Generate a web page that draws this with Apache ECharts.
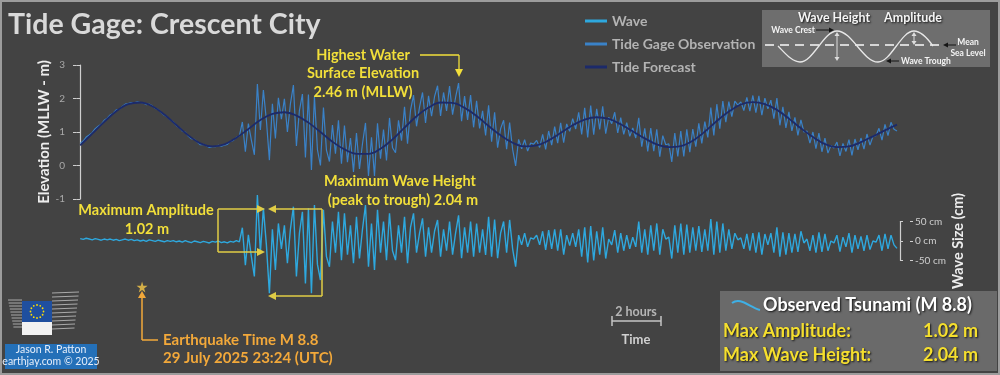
<!DOCTYPE html>
<html>
<head>
<meta charset="utf-8">
<title>Tide Gage: Crescent City</title>
<script src="https://cdn.jsdelivr.net/npm/echarts@6/dist/echarts.min.js"></script>
<style>
  html, body { margin: 0; padding: 0; background: #434343; }
  #main { width: 1000px; height: 375px; }
</style>
</head>
<body>
<div id="main"></div>
<script>
// 15 minute samples, hours from the left edge of the plot
var sampleStep = 0.25;
var quakeHour = 5.15;

// tick labels
var elevTicks = [-1, 0, 1, 2, 3];
var waveTicks = [-50, 0, 50];

// tide forecast, one value per hour (m, MLLW)
var tideForecast = [
  0.60, 0.95, 1.30, 1.62, 1.83, 1.88, 1.77, 1.52, 1.21, 0.90,
  0.66, 0.57, 0.63, 0.83, 1.09, 1.36, 1.54, 1.59, 1.49, 1.28,
  1.00, 0.71, 0.48, 0.35, 0.35, 0.50, 0.78, 1.13, 1.47, 1.73,
  1.88, 1.87, 1.72, 1.48, 1.18, 0.90, 0.68, 0.57, 0.60, 0.75,
  0.97, 1.20, 1.37, 1.44, 1.39, 1.23, 1.02, 0.81, 0.63, 0.55,
  0.58, 0.74, 1.01, 1.33, 1.61, 1.82, 1.89, 1.83, 1.66, 1.40,
  1.11, 0.85, 0.64, 0.55, 0.57, 0.70, 0.87, 1.05, 1.22
];

// tide gage observation (m, MLLW)
var obsLevel = [
  0.66, 0.73, 0.85, 0.91, 0.98, 1.10, 1.17, 1.23, 1.35, 1.41,
  1.51, 1.56, 1.66, 1.68, 1.76, 1.83, 1.85, 1.88, 1.87, 1.90,
  1.88, 1.87, 1.82, 1.83, 1.78, 1.70, 1.67, 1.58, 1.50, 1.45,
  1.36, 1.30, 1.19, 1.13, 1.03, 0.99, 0.88, 0.80, 0.78, 0.70,
  0.62, 0.63, 0.59, 0.54, 0.56, 0.56, 0.60, 0.58, 0.61, 0.63,
  0.72, 0.75, 0.84, 0.88,
  1.30, 0.41, 1.25, 0.76, 0.32, 2.43, 1.06, 2.25, 1.35, 0.16,
  1.84, 0.81, 2.02, 1.38, 1.99, 1.00, 1.84, 2.40, 0.58, 1.64,
  2.13, 0.24, 2.12, -0.13, 2.06, 0.47, 0.00, 1.73, 0.46, 0.12,
  1.21, 0.35, 1.35, 0.05, 1.19, 0.10, 0.82, -0.19, 0.97, -0.10,
  0.65, 1.27, -0.31, 0.84, -0.31, 1.26, 0.20, 1.07, 0.15, 1.42,
  0.53, 0.38, 1.35, 0.74, 1.75, 0.65, 1.65, 2.10, 1.17, 1.74,
  2.18, 1.27, 2.08, 1.47, 2.06, 2.38, 1.48, 2.18, 1.63, 2.37,
  1.52, 2.03, 2.46, 1.32, 2.07, 1.36, 2.10, 1.14, 1.93, 1.11,
  1.63, 0.90, 1.80, 0.71, 1.59, 0.53, 1.10, 1.35, 0.49, 1.28,
  0.48, -0.01, 0.78, 0.50, 0.77, 0.43, 0.67, 0.64, 0.75, 0.54,
  0.93, 0.48, 1.03, 0.61, 1.16, 0.67, 1.27, 0.68, 1.24, 1.02,
  1.40, 1.09, 1.59, 0.93, 1.72, 0.84, 1.79, 0.92, 1.69, 1.08,
  1.77, 0.95, 1.44, 1.25, 1.59, 0.97, 1.43, 0.93, 1.28, 0.87,
  1.12, 0.82, 1.42, 0.56, 1.11, 0.42, 1.12, 0.43, 1.08, 0.26,
  0.89, 0.62, 0.65, 0.11, 0.97, 0.27, 1.03, 0.27, 1.08, 0.40,
  1.09, 0.56, 1.26, 0.66, 1.31, 0.84, 1.73, 0.90, 1.83, 1.10,
  1.92, 1.29, 1.91, 1.46, 1.92, 1.80, 1.90, 1.64, 2.03, 1.62,
  2.09, 1.58, 2.08, 1.50, 2.01, 1.69, 1.95, 1.40, 2.01, 1.20,
  1.75, 1.12, 1.60, 1.03, 1.44, 0.90, 1.36, 1.00, 1.03, 0.67,
  1.00, 0.50, 0.97, 0.41, 0.82, 0.37, 0.60, 0.52, 0.70, 0.29,
  0.66, 0.42, 0.77, 0.30, 0.79, 0.47, 0.82, 0.49, 0.94, 0.61,
  0.87, 0.89, 1.11, 0.76, 1.23, 0.89, 1.29, 1.08, 1.03
];

// wave (observation minus forecast), cm
var waveSize = [
  6, 4, 7, 5, 3, 6, 4, 2, 5, 3,
  5, 2, 4, 1, 3, 5, 2, 4, 1, 3,
  0, 2, -1, 3, 1, -1, 2, 0, -2, 1,
  -1, 1, -2, 0, -3, 1, -2, -4, 0, -2,
  -4, -1, -3, -5, -1, -3, 0, -4, -2, -5,
  -1, -3, 1, -2,
  34, -62, 16, -40, -91, 118, -30, 84, -10, -134,
  30, -74, 45, -20, 40, -57, 30, 88, -91, 20,
  75, -109, 84, -134, 92, -60, -100, 80, -40, -66,
  50, -30, 75, -49, 71, -35, 40, -57, 62, -45,
  30, 92, -66, 45, -74, 80, -30, 50, -49, 71,
  -25, -49, 40, -30, 62, -57, 35, 71, -30, 20,
  58, -40, 35, -30, 25, 54, -40, 30, -25, 50,
  -35, 20, 66, -44, 35, -30, 50, -40, 45, -30,
  30, -36, 62, -40, 55, -44, 20, 50, -30, 54,
  -20, -66, 15, -10, 20, -15, 8, 5, 15, -10,
  25, -23, 28, -20, 30, -25, 30, -35, 15, -12,
  20, -15, 30, -40, 35, -55, 38, -50, 25, -35,
  35, -45, 5, -10, 28, -30, 20, -25, 15, -20,
  10, -15, 50, -30, 30, -35, 40, -25, 45, -35,
  30, 5, 10, -45, 40, -30, 45, -35, 42, -30,
  35, -25, 38, -28, 30, -25, 56, -35, 50, -30,
  45, -25, 30, -20, 20, 3, 8, -20, 18, -25,
  20, -30, 22, -35, 18, -10, 20, -30, 35, -40,
  22, -35, 20, -30, 18, -28, 25, -5, 5, -25,
  15, -30, 22, -28, 18, -25, 0, -5, 15, -27,
  10, -15, 20, -30, 15, -20, 12, -25, 15, -22,
  0, -3, 15, -25, 18, -20, 15, -10, -19
];

var YELLOW = '#f2df3a';
var BOXLINE = '#e0cc45';
var ORANGE = '#f2a83a';
var FONT = 'Lato';

function txt(x, y, s, font, fill, align, extra) {
  var st = {
    text: s, font: font, fill: fill,
    align: align || 'left', textAlign: align || 'left',
    verticalAlign: 'middle', textVerticalAlign: 'middle'
  };
  if (extra) for (var k in extra) st[k] = extra[k];
  return { type: 'text', x: x, y: y, silent: true, z: 50, style: st };
}
function ln(x1, y1, x2, y2, color, w, dash) {
  return { type: 'line', silent: true, z: 50,
    shape: { x1: x1, y1: y1, x2: x2, y2: y2 },
    style: { stroke: color, lineWidth: w || 1.5, lineDash: dash || null } };
}
function tri(pts, color) {
  return { type: 'polygon', silent: true, z: 50, shape: { points: pts }, style: { fill: color } };
}
function bez(a, c1, c2, b, color, w) {
  return { type: 'bezierCurve', silent: true, z: 50,
    shape: { x1: a[0], y1: a[1], cpx1: c1[0], cpy1: c1[1], cpx2: c2[0], cpy2: c2[1], x2: b[0], y2: b[1] },
    style: { stroke: color, lineWidth: w || 1.5, fill: 'none' } };
}

var shadow = { textShadowColor: 'rgba(0,0,0,0.8)', textShadowBlur: 2, textShadowOffsetX: 1, textShadowOffsetY: 1 };

var graphics = [];
// title
graphics.push(txt(8, 25, 'Tide Gage: Crescent City', 'bold 28.5px ' + FONT, '#d9d9d9'));

// highest water note
graphics.push(txt(363, 55, 'Highest Water', 'bold 14.5px ' + FONT, YELLOW, 'center'));
graphics.push(txt(363, 73, 'Surface Elevation', 'bold 14.5px ' + FONT, YELLOW, 'center'));
graphics.push(txt(363, 92, '2.46 m (MLLW)', 'bold 14.5px ' + FONT, YELLOW, 'center'));
graphics.push(ln(420, 55, 459, 55, YELLOW, 1.3));
graphics.push(ln(459, 55, 459, 71, YELLOW, 1.3));
graphics.push(tri([[455, 69], [463, 69], [459, 77]], YELLOW));

// maximum wave height note
graphics.push(txt(400, 181, 'Maximum Wave Height', 'bold 14.5px ' + FONT, YELLOW, 'center'));
graphics.push(txt(403, 200, '(peak to trough) 2.04 m', 'bold 14.5px ' + FONT, YELLOW, 'center'));
graphics.push(ln(322, 209, 275, 209, BOXLINE));
graphics.push(ln(322, 209, 322, 296, BOXLINE));
graphics.push(ln(322, 296, 275, 296, BOXLINE));
graphics.push(tri([[276, 205], [276, 213], [268, 209]], BOXLINE));
graphics.push(tri([[276, 292], [276, 300], [268, 296]], BOXLINE));

// maximum amplitude note
graphics.push(txt(146, 210, 'Maximum Amplitude', 'bold 14.5px ' + FONT, YELLOW, 'center'));
graphics.push(txt(147, 229, '1.02 m', 'bold 14.5px ' + FONT, YELLOW, 'center'));
graphics.push(ln(218, 209, 258, 209, BOXLINE));
graphics.push(ln(218, 209, 218, 252, BOXLINE));
graphics.push(ln(218, 252, 258, 252, BOXLINE));
graphics.push(tri([[257, 205], [257, 213], [265, 209]], BOXLINE));
graphics.push(tri([[257, 248], [257, 256], [265, 252]], BOXLINE));

// earthquake time
graphics.push(ln(142, 295, 142, 340, ORANGE, 1.5));
graphics.push(ln(142, 340, 158, 340, ORANGE, 1.5));
graphics.push(tri([[138, 298], [146, 298], [142, 291]], ORANGE));
graphics.push(txt(163, 340, 'Earthquake Time M 8.8', 'bold 15px ' + FONT, ORANGE));
graphics.push(txt(163, 358, '29 July 2025 23:24 (UTC)', 'bold 15px ' + FONT, ORANGE));

// time scale bar
graphics.push(txt(636, 312, '2 hours', 'bold 12.5px ' + FONT, '#b5b5b5', 'center'));
graphics.push(ln(612, 321, 661, 321, '#c4c4c4', 1.5));
graphics.push(ln(612, 316, 612, 326, '#c4c4c4', 1.5));
graphics.push(ln(661, 316, 661, 326, '#c4c4c4', 1.5));
graphics.push(txt(636, 340, 'Time', 'bold 13px ' + FONT, '#d0d0d0', 'center'));

// summary box
graphics.push({ type: 'rect', silent: true, z: 40, shape: { x: 720, y: 291, width: 277, height: 80 }, style: { fill: '#6a6a6a' } });
graphics.push(bez([732, 303], [740, 297], [748, 306], [760, 310], '#3fb0e6', 2));
graphics.push(txt(763, 305, 'Observed Tsunami (M 8.8)', 'bold 18px ' + FONT, '#ffffff', 'left', shadow));
graphics.push(txt(723, 331, 'Max Amplitude:', 'bold 18px ' + FONT, '#f5df2e', 'left', shadow));
graphics.push(txt(978, 331, '1.02 m', 'bold 18px ' + FONT, '#f5df2e', 'right', shadow));
graphics.push(txt(723, 355, 'Max Wave Height:', 'bold 18px ' + FONT, '#f5df2e', 'left', shadow));
graphics.push(txt(978, 355, '2.04 m', 'bold 18px ' + FONT, '#f5df2e', 'right', shadow));

// wave diagram inset
graphics.push({ type: 'rect', silent: true, z: 40, shape: { x: 762, y: 10, width: 228, height: 57 }, style: { fill: '#6e6e6e' } });
graphics.push(ln(765, 45, 942, 45, '#d6d6d6', 2, [9, 6]));
var sw = '#e8e8e8';
graphics.push(bez([778, 46], [785, 53], [792, 62], [800, 62], sw, 1.3));
graphics.push(bez([800, 62], [813, 62], [824, 31], [837, 31], sw, 1.3));
graphics.push(bez([837, 31], [852, 31], [863, 62], [878, 62], sw, 1.3));
graphics.push(bez([878, 62], [891, 62], [901, 31], [914, 31], sw, 1.3));
graphics.push(bez([914, 31], [921, 31], [928, 39], [933, 46], sw, 1.3));
graphics.push(txt(834, 18, 'Wave Height', 'bold 12.5px ' + FONT, '#f4f4f4', 'center', shadow));
graphics.push(txt(913, 18, 'Amplitude', 'bold 12.5px ' + FONT, '#f4f4f4', 'center', shadow));
graphics.push(txt(815, 30, 'Wave Crest', 'bold 8.5px ' + FONT, '#f4f4f4', 'right'));
graphics.push(ln(816, 30, 830, 30, '#151515', 1));
graphics.push(tri([[829, 27.5], [829, 32.5], [834, 30]], '#151515'));
graphics.push(ln(837, 35, 837, 58, '#dddddd', 1));
graphics.push(tri([[834.5, 36], [839.5, 36], [837, 32]], '#dddddd'));
graphics.push(tri([[834.5, 57], [839.5, 57], [837, 61]], '#dddddd'));
graphics.push(ln(914, 35, 914, 42, '#dddddd', 1));
graphics.push(tri([[911.5, 36], [916.5, 36], [914, 32]], '#dddddd'));
graphics.push(tri([[911.5, 41], [916.5, 41], [914, 45]], '#dddddd'));
graphics.push(txt(968, 42, 'Mean', 'bold 8.5px ' + FONT, '#f4f4f4', 'center'));
graphics.push(txt(968, 53, 'Sea Level', 'bold 8.5px ' + FONT, '#f4f4f4', 'center'));
graphics.push(ln(956, 45, 947, 45, '#151515', 1));
graphics.push(tri([[948, 42.5], [948, 47.5], [943, 45]], '#151515'));
graphics.push(txt(901, 61, 'Wave Trough', 'bold 8.5px ' + FONT, '#f4f4f4'));
graphics.push(ln(899, 61, 889, 61, '#151515', 1));
graphics.push(tri([[891, 58.5], [891, 63.5], [886, 61]], '#151515'));

// logo block
for (var s = 0; s < 10; s++) {
  graphics.push(ln(8 + s * 0.6, 300 + s * 3, 22, 300 + s * 3, '#a9a9a9', 1));
  graphics.push(ln(52, 293 + s * 4, 79 - s * 0.5, 292 + s * 4, '#a9a9a9', 1));
}
graphics.push({ type: 'rect', silent: true, z: 51, shape: { x: 22, y: 301, width: 30, height: 21 }, style: { fill: '#1f4f9f' } });
for (var k = 0; k < 12; k++) {
  var a = k * Math.PI / 6;
  graphics.push({ type: 'circle', silent: true, z: 52, shape: { cx: 37 + 6.5 * Math.cos(a), cy: 311.5 + 6.5 * Math.sin(a), r: 0.9 }, style: { fill: '#ffdd00' } });
}
graphics.push({ type: 'rect', silent: true, z: 51, shape: { x: 22, y: 322, width: 30, height: 13 }, style: { fill: '#f2f2f2' } });
graphics.push(txt(24, 326, 'European', '4px ' + FONT, '#333', 'left', { z: 53 }));
graphics.push(txt(24, 331, 'Commission', '4px ' + FONT, '#333', 'left'));
graphics.push({ type: 'rect', silent: true, z: 40, shape: { x: 5, y: 344, width: 92, height: 25 }, style: { fill: '#2470b8' } });
graphics.push(txt(51, 350, 'Jason R. Patton', '10.5px ' + FONT, '#e6eefa', 'center'));
graphics.push(txt(51, 362, 'earthjay.com \u00a9 2025', '10.5px ' + FONT, '#e6eefa', 'center'));

// frame
graphics.push({ type: 'rect', silent: true, z: 100, shape: { x: 1, y: 1, width: 998, height: 373 }, style: { fill: 'none', stroke: '#9c9c9c', lineWidth: 2 } });

var xMin = -0.6, xMax = 68;
var obsData = obsLevel.map(function (v, i) { return [i * sampleStep, v]; });
var waveData = waveSize.map(function (v, i) { return [i * sampleStep, v]; });
var tideData = tideForecast.map(function (v, i) { return [i, v]; });

var chart = echarts.init(document.getElementById('main'));
chart.setOption({
  backgroundColor: '#434343',
  animation: false,
  textStyle: { fontFamily: FONT },
  legend: {
    orient: 'vertical', left: 580, top: 8,
    icon: 'rect', itemWidth: 22, itemHeight: 3, itemGap: 7,
    data: ['Wave', 'Tide Gage Observation', 'Tide Forecast'],
    textStyle: { color: '#b3b3b3', fontSize: 14, fontWeight: 'bold', fontFamily: FONT, lineHeight: 16 },
    selectedMode: false
  },
  grid: [
    { left: 73, right: 103, top: 65, height: 134 },
    { left: 73, right: 103, top: 182.5, height: 117 },
    { left: 900, right: 87, top: 221.5, height: 39 }
  ],
  xAxis: [
    { type: 'value', gridIndex: 0, min: xMin, max: xMax, show: false },
    { type: 'value', gridIndex: 1, min: xMin, max: xMax, show: false },
    { type: 'value', gridIndex: 2, min: 0, max: 1, show: false }
  ],
  yAxis: [
    {
      type: 'value', gridIndex: 0,
      min: elevTicks[0], max: elevTicks[elevTicks.length - 1], interval: elevTicks[1] - elevTicks[0],
      name: 'Elevation (MLLW - m)', nameLocation: 'middle', nameGap: 21, nameRotate: 90,
      nameMoveOverlap: false,
      nameTextStyle: { color: '#ededed', fontSize: 15, fontWeight: 'bold', fontFamily: FONT },
      axisLine: { show: true, lineStyle: { color: '#cfcfcf', width: 1.2 } },
      axisTick: { show: true, length: 4, lineStyle: { color: '#cfcfcf' } },
      axisLabel: { color: '#a9a9a9', fontSize: 10, margin: 8 },
      splitLine: { show: false }
    },
    {
      type: 'value', gridIndex: 0,
      min: elevTicks[0], max: elevTicks[elevTicks.length - 1], interval: elevTicks[1] - elevTicks[0],
      axisLine: { show: false }, axisLabel: { show: false }, splitLine: { show: false },
      axisTick: { show: true, inside: true, length: 3, lineStyle: { color: '#cfcfcf' } },
      position: 'left'
    },
    { type: 'value', gridIndex: 1, min: -150, max: 150, show: false },
    {
      type: 'value', gridIndex: 2, position: 'right',
      min: waveTicks[0], max: waveTicks[waveTicks.length - 1], interval: waveTicks[1] - waveTicks[0],
      name: 'Wave Size (cm)', nameLocation: 'middle', nameGap: 38, nameRotate: 90,
      nameMoveOverlap: false,
      nameTextStyle: { color: '#ededed', fontSize: 14.5, fontWeight: 'bold', fontFamily: FONT },
      axisLine: { show: true, lineStyle: { color: '#cfcfcf', width: 1.2 } },
      axisTick: { show: true, length: 3, lineStyle: { color: '#cfcfcf' } },
      axisLabel: { color: '#cfcfcf', fontSize: 10, margin: 2, formatter: '{value} cm' },
      splitLine: { show: false }
    },
    {
      type: 'value', gridIndex: 2, position: 'right',
      min: waveTicks[0], max: waveTicks[waveTicks.length - 1], interval: waveTicks[1] - waveTicks[0],
      axisLine: { show: false }, axisLabel: { show: false }, splitLine: { show: false },
      axisTick: { show: true, inside: true, length: 3, lineStyle: { color: '#cfcfcf' } }
    }
  ],
  series: [
    {
      name: 'Tide Gage Observation', type: 'line', xAxisIndex: 0, yAxisIndex: 0,
      data: obsData, showSymbol: false, color: '#3a82c8',
      lineStyle: { color: '#3a82c8', width: 1.2 }, z: 2
    },
    {
      name: 'Tide Forecast', type: 'line', xAxisIndex: 0, yAxisIndex: 0,
      data: tideData, showSymbol: false, smooth: 0.4, color: '#1c2a6a',
      lineStyle: { color: '#1c2a6a', width: 1.8 }, z: 3
    },
    {
      name: 'Wave', type: 'line', xAxisIndex: 1, yAxisIndex: 2,
      data: waveData, showSymbol: false, color: '#2ea8de',
      lineStyle: { color: '#2ea8de', width: 1.4 }, z: 2
    },
    {
      name: 'Earthquake', type: 'scatter', xAxisIndex: 1, yAxisIndex: 2,
      data: [[quakeHour, -118]],
      symbol: 'path://M50,0 L61,35 L98,35 L68,57 L79,91 L50,70 L21,91 L32,57 L2,35 L39,35 Z',
      symbolSize: 11, itemStyle: { color: '#f7c948' }, z: 5
    }
  ],
  graphic: graphics
});
</script>
</body>
</html>
